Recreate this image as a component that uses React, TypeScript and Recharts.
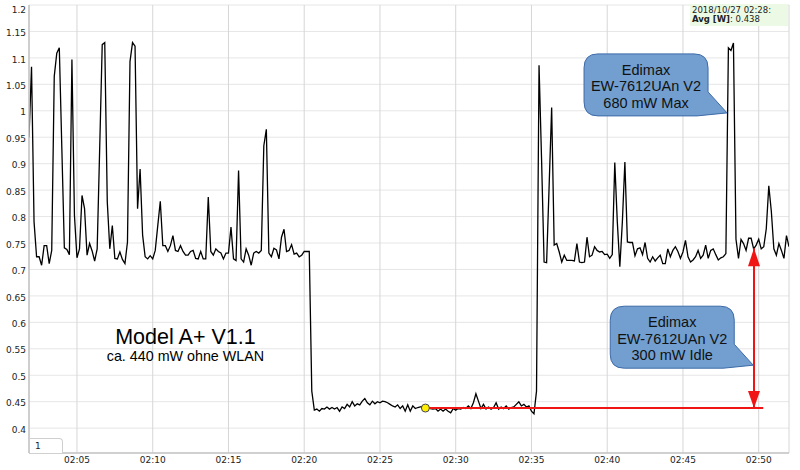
import React from 'react';
import { LineChart, Line, XAxis, YAxis, CartesianGrid, ReferenceLine, ReferenceDot } from 'recharts';

// Sampling: one averaged reading every 10 s, starting 02:01:50
const START_MINUTE = 1 + 50 / 60;
const SAMPLE_SECONDS = 10;

// 02:01:50 – 02:20:20  (Model A+ with WLAN stick active)
const wattsBefore = [
  0.95, 1.083, 0.79, 0.724, 0.724, 0.708, 0.745, 0.745, 0.711, 0.736,
  1.065, 1.109, 1.119, 0.93, 0.741, 0.738, 0.728, 1.097, 0.802, 0.722,
  0.739, 0.84, 0.815, 0.727, 0.749, 0.735, 0.716, 0.739, 0.93, 1.125,
  1.129, 0.828, 0.739, 0.783, 0.721, 0.72, 0.733, 0.719, 0.711, 0.752,
  1.093, 1.129, 1.122, 0.815, 0.89, 0.765, 0.724, 0.72, 0.726, 0.72,
  0.736, 0.783, 0.829, 0.745, 0.745, 0.734, 0.745, 0.764, 0.736, 0.734,
  0.745, 0.734, 0.727, 0.727, 0.734, 0.736, 0.721, 0.72, 0.734, 0.72,
  0.72, 0.837, 0.734, 0.727, 0.739, 0.734, 0.731, 0.72, 0.731, 0.731,
  0.78, 0.72, 0.717, 0.887, 0.72, 0.714, 0.739, 0.727, 0.708, 0.731,
  0.734, 0.731, 0.736, 0.934, 0.965, 0.731, 0.724, 0.74, 0.737, 0.72,
  0.761, 0.776, 0.734, 0.736, 0.747, 0.729, 0.731, 0.724, 0.727, 0.734,
  0.734, 0.734,
];

// 02:20:30 – 02:35:10  (stick removed)
const wattsIdle = [
  0.47, 0.434, 0.436, 0.432, 0.437, 0.436, 0.44, 0.436, 0.439, 0.436,
  0.439, 0.432, 0.44, 0.437, 0.445, 0.44, 0.45, 0.442, 0.446, 0.444,
  0.451, 0.456, 0.448, 0.444, 0.451, 0.446, 0.45, 0.448, 0.451, 0.45,
  0.448, 0.445, 0.442, 0.44, 0.444, 0.437, 0.442, 0.432, 0.444, 0.432,
  0.442, 0.437, 0.439, 0.44, 0.441, 0.438, 0.439, 0.437, 0.436, 0.437,
  0.432, 0.436, 0.432, 0.436, 0.432, 0.429, 0.437, 0.434, 0.437, 0.436,
  0.439, 0.437, 0.442, 0.437, 0.448, 0.465, 0.451, 0.437, 0.445, 0.436,
  0.44, 0.436, 0.439, 0.448, 0.436, 0.44, 0.437, 0.442, 0.436, 0.439,
  0.44, 0.445, 0.45, 0.442, 0.445, 0.44, 0.442, 0.432, 0.427,
];

// 02:35:20 – 02:52:00  (stick plugged in again)
const wattsAfter = [
  0.47, 1.086, 0.909, 0.714, 0.713, 0.858, 1.006, 0.746, 0.749, 0.733,
  0.714, 0.727, 0.717, 0.717, 0.717, 0.716, 0.749, 0.714, 0.713, 0.714,
  0.761, 0.724, 0.727, 0.743, 0.736, 0.733, 0.734, 0.728, 0.729, 0.721,
  0.728, 0.902, 0.79, 0.705, 0.79, 0.903, 0.752, 0.751, 0.751, 0.726,
  0.739, 0.741, 0.728, 0.751, 0.721, 0.714, 0.724, 0.716, 0.722, 0.727,
  0.711, 0.711, 0.739, 0.724, 0.736, 0.743, 0.734, 0.721, 0.733, 0.755,
  0.724, 0.714, 0.718, 0.724, 0.736, 0.721, 0.727, 0.746, 0.721, 0.736,
  0.739, 0.728, 0.718, 0.722, 0.724, 0.73, 1.119, 1.114, 1.128, 0.757,
  0.721, 0.757, 0.749, 0.736, 0.759, 0.759, 0.739, 0.746, 0.757, 0.739,
  0.743, 0.777, 0.858, 0.81, 0.739, 0.727, 0.749, 0.736, 0.721, 0.764,
  0.743,
];

const xTicks = [5, 10, 15, 20, 25, 30, 35, 40, 45, 50];
const yTicks = [0.4, 0.45, 0.5, 0.55, 0.6, 0.65, 0.7, 0.75, 0.8, 0.85, 0.9, 0.95, 1, 1.05, 1.1, 1.15, 1.2];
const yDomain = [0.353, 1.2];

const hoverDate = '2018/10/27';
const hoverMinute = 28;
const seriesName = 'Avg [W]';

const idleLineEndMinute = 50.3;
const arrowMinute = 49.69;
const arrowTopWatts = 0.74;

const maxCallout = { t: 47.91, w: 0.996, lines: ['Edimax', 'EW-7612UAn V2', '680 mW Max'] };
const idleCallout = { t: 49.64, w: 0.519, lines: ['Edimax', 'EW-7612UAn V2', '300 mW Idle'] };
const modelNote = { t: 12.16, w: 0.5598, title: 'Model A+ V1.1', subtitle: 'ca. 440 mW ohne WLAN' };

const watts = [...wattsBefore, ...wattsIdle, ...wattsAfter];
const data = watts.map((w, i) => ({ t: START_MINUTE + (i * SAMPLE_SECONDS) / 60, w }));
const hoverPoint = data.reduce((best, d) => (Math.abs(d.t - hoverMinute) < Math.abs(best.t - hoverMinute) ? d : best), data[0]);
const idleLevel = hoverPoint.w;

const pad = (n: number) => String(Math.round(n)).padStart(2, '0');
const fmtTime = (m: number) => `02:${pad(m)}`;
const fmtWatt = (v: number) => String(Number(v.toFixed(2)));

const RED = '#f01414';
const TICK_FONT = 'DejaVu Sans, sans-serif';
const NOTE_FONT = 'Liberation Sans, Arial, sans-serif';

const YTick = (props: any) => {
  const { x, y, payload } = props;
  const shift = payload.value >= 1.2 ? 5 : 1.5;
  return (
    <text x={x} y={y + shift} dy="0.35em" textAnchor="end" fontFamily={TICK_FONT} fontSize={9} fill="#222">
      {fmtWatt(payload.value)}
    </text>
  );
};

const Callout = (props: any) => {
  const { cx, cy, lines } = props;
  const L = cx - 143;
  const R = cx - 19;
  const T = cy - 59;
  const B = cy + 3;
  const r = 14;
  const d = `M${L + r},${T} H${R - r} Q${R},${T} ${R},${T + r} V${cy - 21} L${cx},${cy} L${R - 11},${B} H${L + r} Q${L},${B} ${L},${B - r} V${T + r} Q${L},${T} ${L + r},${T} Z`;
  const mid = (L + R) / 2;
  return (
    <g>
      <path d={d} fill="#729fcf" stroke="#3d6aa8" strokeWidth={1} />
      {lines.map((s: string, i: number) => (
        <text key={i} x={mid} y={cy - 38 + i * 16.5} textAnchor="middle" fontFamily={NOTE_FONT} fontSize={14.5} fill="#111">
          {s}
        </text>
      ))}
    </g>
  );
};

const ModelNote = (props: any) => {
  const { cx, cy } = props;
  return (
    <g>
      <text x={cx} y={cy} textAnchor="middle" fontFamily={NOTE_FONT} fontSize={21.5} fill="#000">
        {modelNote.title}
      </text>
      <text x={cx} y={cy + 17.5} textAnchor="middle" fontFamily={NOTE_FONT} fontSize={14.3} fill="#000">
        {modelNote.subtitle}
      </text>
    </g>
  );
};

const ArrowHeadUp = (props: any) => {
  const { cx, cy } = props;
  return <polygon points={`${cx},${cy} ${cx - 6},${cy + 18} ${cx + 6},${cy + 18}`} fill={RED} />;
};

const ArrowHeadDown = (props: any) => {
  const { cx, cy } = props;
  return <polygon points={`${cx},${cy} ${cx - 6},${cy - 17} ${cx + 6},${cy - 17}`} fill={RED} />;
};

export default function App() {
  return (
    <div style={{ position: 'absolute', left: 0, top: 0, width: 800, height: 470, background: '#fff' }}>
      <LineChart width={800} height={470} data={data} margin={{ top: 5, right: 11, bottom: 0, left: 0 }}>
        <CartesianGrid vertical={false} stroke="#e6e6e6" strokeWidth={1} />
        <CartesianGrid horizontal={false} stroke="#d6d6d6" strokeWidth={1} />
        <XAxis
          dataKey="t"
          type="number"
          domain={['dataMin', 'dataMax']}
          ticks={xTicks}
          interval={0}
          tickFormatter={fmtTime}
          height={17}
          tickLine={false}
          tickSize={0}
          tickMargin={4}
          axisLine={{ stroke: '#c4c4c4', strokeWidth: 1.5 }}
          tick={{ fontFamily: TICK_FONT, fontSize: 9, fill: '#222' }}
          allowDataOverflow
        />
        <YAxis
          type="number"
          domain={yDomain}
          ticks={yTicks}
          interval={0}
          width={29}
          tickLine={false}
          tickSize={0}
          tickMargin={3}
          axisLine={{ stroke: '#c4c4c4', strokeWidth: 1.5 }}
          tick={<YTick />}
          allowDataOverflow
        />
        <Line
          dataKey="w"
          type="linear"
          stroke="#000"
          strokeWidth={1.3}
          dot={false}
          activeDot={false}
          isAnimationActive={false}
        />
        <ReferenceLine
          segment={[
            { x: hoverPoint.t, y: idleLevel },
            { x: idleLineEndMinute, y: idleLevel },
          ]}
          stroke={RED}
          strokeWidth={2}
        />
        <ReferenceLine
          segment={[
            { x: arrowMinute, y: idleLevel },
            { x: arrowMinute, y: arrowTopWatts },
          ]}
          stroke={RED}
          strokeWidth={2}
        />
        <ReferenceDot x={arrowMinute} y={arrowTopWatts} r={0} shape={(p: any) => <ArrowHeadUp {...p} />} />
        <ReferenceDot x={arrowMinute} y={idleLevel} r={0} shape={(p: any) => <ArrowHeadDown {...p} />} />
        <ReferenceDot x={hoverPoint.t} y={hoverPoint.w} r={4} fill="#ffee00" stroke="#444" strokeWidth={1} />
        <ReferenceDot x={maxCallout.t} y={maxCallout.w} r={0} shape={(p: any) => <Callout {...p} lines={maxCallout.lines} />} />
        <ReferenceDot x={idleCallout.t} y={idleCallout.w} r={0} shape={(p: any) => <Callout {...p} lines={idleCallout.lines} />} />
        <ReferenceDot x={modelNote.t} y={modelNote.w} r={0} shape={(p: any) => <ModelNote {...p} />} />
      </LineChart>

      <div
        style={{
          position: 'absolute',
          left: 690,
          top: 4,
          width: 98,
          height: 22,
          background: '#ecfae5',
          fontFamily: TICK_FONT,
          fontSize: 8.5,
          lineHeight: '9px',
          color: '#222',
          padding: '2px 0 0 2px',
          boxSizing: 'border-box',
        }}
      >
        <div>{`${hoverDate} ${fmtTime(hoverMinute)}:`}</div>
        <div>
          <b>{seriesName}</b>: {hoverPoint.w.toFixed(3)}
        </div>
      </div>

      <div
        style={{
          position: 'absolute',
          left: 30,
          top: 438,
          width: 33,
          height: 15,
          background: '#fff',
          borderTop: '1px solid #cfcfcf',
          borderRight: '1px solid #cfcfcf',
          borderTopRightRadius: 4,
          boxSizing: 'border-box',
          fontFamily: TICK_FONT,
          fontSize: 9,
          lineHeight: '14px',
          color: '#222',
          paddingLeft: 5,
        }}
      >
        1
      </div>
    </div>
  );
}
